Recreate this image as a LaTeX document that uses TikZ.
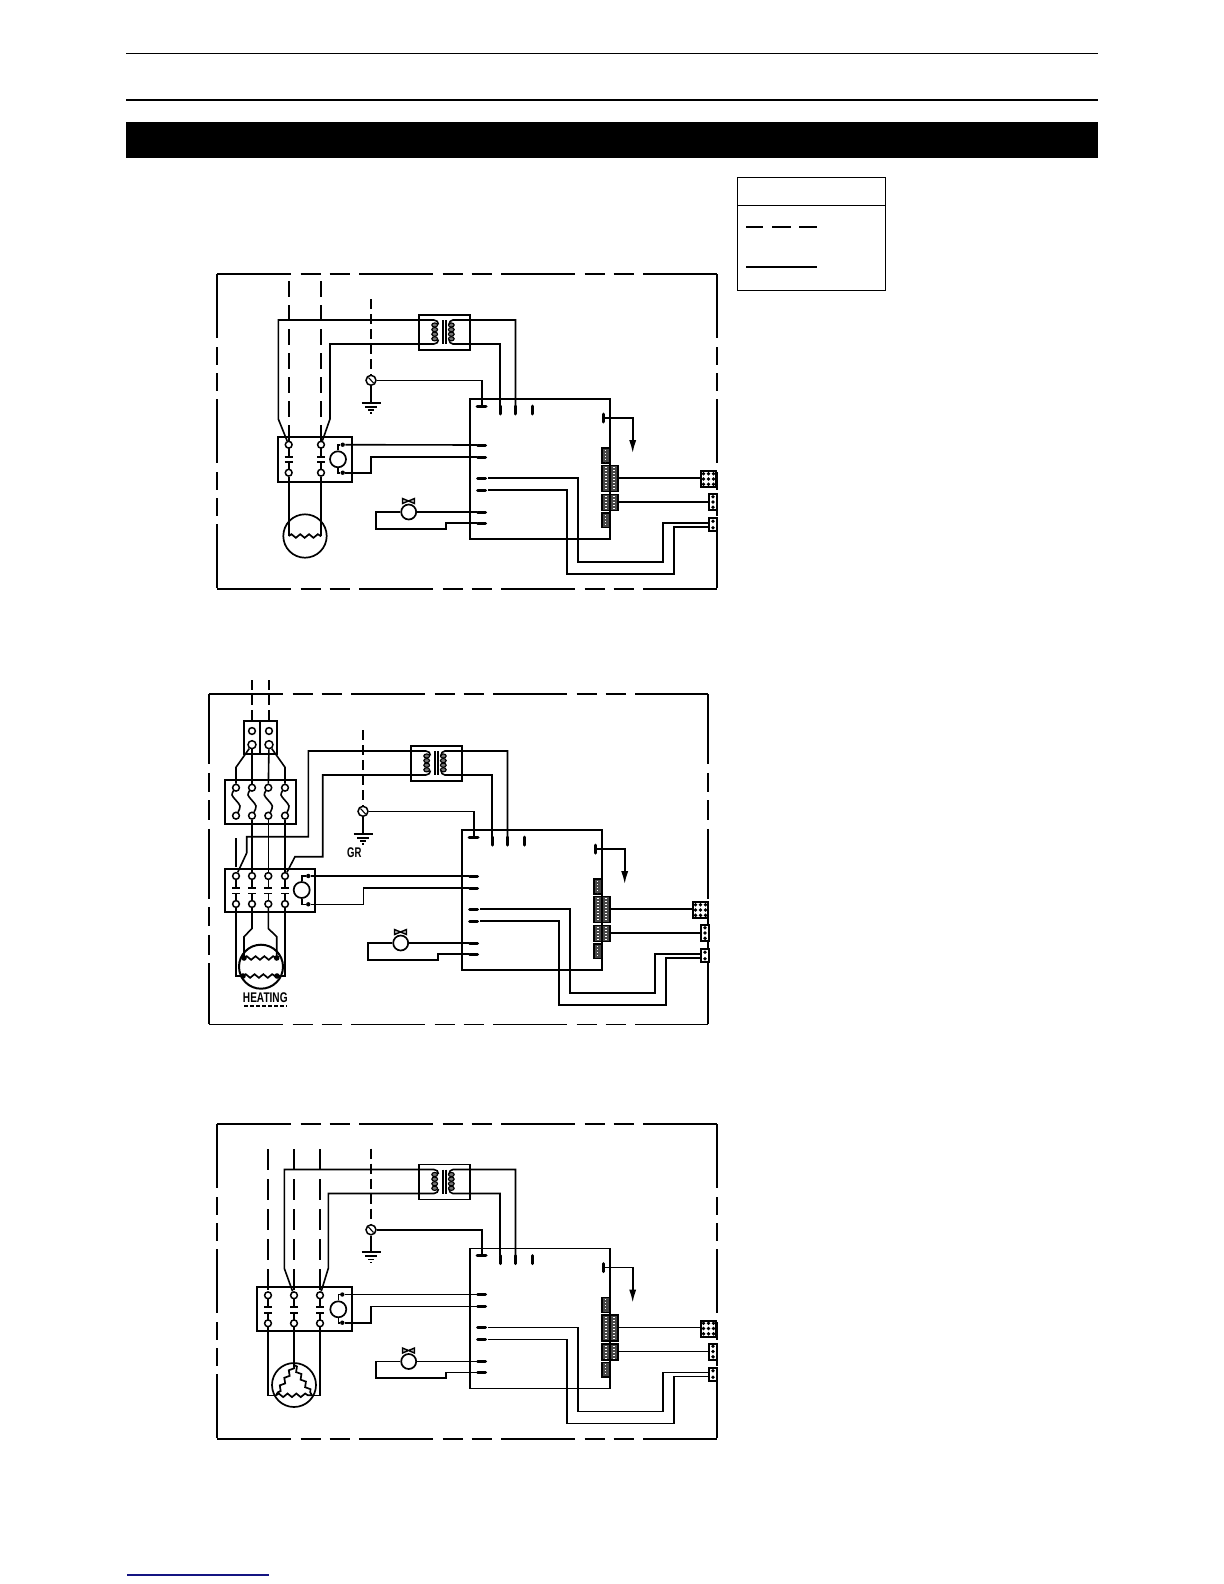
\documentclass[tikz,border=0pt]{standalone}
\usepackage{graphicx}
\usepackage{fontspec}
\setmainfont{Liberation Sans}
\usetikzlibrary{arrows.meta}
\usetikzlibrary{decorations.pathmorphing}
\definecolor{footblue}{RGB}{20,20,130}

\tikzset{
	wire/.style={line width=.8pt,line join=miter},
	thinline/.style={line width=.55pt},
	boxline/.style={line width=.9pt},
	legendline/.style={line width=.7pt},
	framex/.style={line width=.9pt,dash pattern=on 37pt off 4.75pt on 10pt off 4.5pt on 10pt off 4.75pt},
	framey/.style={line width=.9pt,dash pattern=on 32pt off 4.5pt on 9pt off 4pt on 9pt off 4pt},
	frameytall/.style={line width=.9pt,dash pattern=on 35pt off 4.25pt on 9.5pt off 4.25pt on 10pt off 4.25pt},
	feed/.style={line width=.85pt,dash pattern=on 8pt off 4pt},
	feedshort/.style={line width=.8pt,dash pattern=on 5pt off 2.5pt},
	feedlong/.style={line width=.8pt,dash pattern=on 10.5pt off 4.5pt},
	termmark/.style={line width=1.5pt,line cap=round},
	termnode/.style={circle,draw,line width=.75pt,fill=white,inner sep=0pt,minimum size=3.4pt},
	dotnode/.style={circle,fill=black,inner sep=0pt,minimum size=2.2pt},
	coilnode/.style={circle,draw,line width=.85pt,fill=white,inner sep=0pt,minimum size=8pt},
	valvenode/.style={circle,draw,line width=.85pt,fill=white,inner sep=0pt,minimum size=7.5pt},
	motornode/.style={circle,draw,line width=.85pt,inner sep=0pt,minimum size=22pt},
	heater/.style={line width=.85pt,decorate,decoration={snake,segment length=4.4pt,amplitude=.9pt}},
	pinblock/.style={draw,line width=.75pt,fill=black!72},
	pinouter/.style={draw,line width=1pt,fill=white},
	labeltext/.style={font=\bfseries\fontsize{7}{8}\selectfont,inner sep=0pt},
}

% panel edges: left, top, right, bottom, style of the upright sides
\newcommand{\panelframe}[5]{
	\draw[framex] (#1,#2)--(#3,#2);
	\draw[framex] (#1,#4)--(#3,#4);
	\draw[#5] (#1,#2)--(#1,#4);
	\draw[#5] (#3,#2)--(#3,#4);
}

% a contact pair: name, x, y of the upper terminal
\newcommand{\contactpair}[3]{
	\draw[wire] (#2,#3)--(#2,#3+12) (#2,#3+17.5)--(#2,#3+28);
	\draw[boxline] (#2-4,#3+12)--(#2+4,#3+12) (#2-4,#3+17.5)--(#2+4,#3+17.5);
	\node[termnode] (#1t) at (#2,#3) {};
	\node[termnode] (#1b) at (#2,#3+28) {};
}

% contactor coil: centre x, y, dot x, upper dot y, lower dot y
\newcommand{\coilunit}[5]{
	\node[coilnode] (coil) at (#1,#2) {};
	\node[dotnode] (dotA) at (#3,#4) {};
	\node[dotnode] (dotB) at (#3,#5) {};
	\draw[wire] (coil) |- (dotA);
	\draw[wire] (coil) |- (dotB);
}

% header block of pins: x, y, width, height, columns
\newcommand{\pinbox}[5]{
	\draw[pinblock] (#1,#2) rectangle (#1+#3,#2+#4);
	\foreach \k in {1,...,#5} {
		\draw[white,line width=.6pt,dash pattern=on .6pt off .9pt] (#1+\k*#3/#5-#3/#5/2,#2+1.5)--(#1+\k*#3/#5-#3/#5/2,#2+#4-1.5);
	}
}

% plug at the panel edge: x, y, width, height, columns, rows
\newcommand{\plugbox}[6]{
	\draw[pinouter] (#1,#2) rectangle (#1+#3,#2+#4);
	\foreach \k in {1,...,#5} {
		\foreach \j in {1,...,#6} {
			\fill (#1+\k*#3/#5-#3/#5/2,#2+\j*#4/#6-#4/#6/2) circle[radius=.95pt];
		}
	}
}

% board, transformer, valve and earth screw, drawn at the place of the top panel
\newcommand{\ctrlside}[2]{
	\begin{scope}[shift={(#1,#2)}]
		% earth
		\draw[feedshort] (371,299)--(371,376);
		\node[termnode,minimum size=5pt] (screw) at (371,380.3) {};
		\draw[thinline] (368.5,377.5)--(373.5,383);
		\draw[wire] (screw)--(371,402.7);
		\draw[boxline] (361.5,402.7)--(380.5,402.7);
		\draw[boxline] (365,406.7)--(377,406.7);
		\draw[boxline] (368,410)--(374,410);
		\draw[thinline] (370,413)--(372,413);
		\draw[wire] (screw)-|(481.7,406);
		% board
		\draw[boxline] (470,399) rectangle (610,539);
		\draw[termmark] (477,406)--(486,406);
		\draw[termmark] (500,406)--(500,414);
		\draw[termmark] (515,406)--(515,414);
		\draw[termmark] (532,406)--(532,414);
		\draw[termmark] (603,414)--(603,422);
		\foreach \yy in {445,457,478,490,512,523} {
			\draw[termmark] (477.5,\yy)--(485.5,\yy);
		}
		\coordinate (inA) at (477,445);
		\coordinate (inB) at (477,457);
		% transformer
		\draw[boxline] (418.7,315) rectangle (470,350);
		\foreach \k in {0,1,2,3} {
			\draw[thinline,fill=black!55] (434.7,325+\k*4.6) ellipse[x radius=2.9,y radius=2.1];
			\draw[thinline,fill=black!55] (451.3,325+\k*4.6) ellipse[x radius=2.9,y radius=2.1];
		}
		\draw[line width=1.2pt] (442.7,320)--(442.7,344) (446,320)--(446,344);
		\coordinate (xfTop) at (434,320);
		\coordinate (xfBot) at (434,344);
		\draw[wire] (438.5,324.5) to[out=-90+180,in=0] (xfTop);
		\draw[wire] (438.5,339.5) to[out=-90,in=0] (xfBot);
		\draw[wire] (449,324.5) to[out=90,in=180] (453,320)--(515.5,320)--(515.5,406);
		\draw[wire] (449,339.5) to[out=-90,in=180] (453,344)--(500,344)--(500,406);
		% arrow out of the board
		\draw[wire,-{Latex[length=6.5pt,width=3.6pt]}] (603,418)-|(632.7,453);
		% pin headers
		\pinbox{602}{448}{7.5}{15}{1}
		\pinbox{602}{465.5}{16}{26}{2}
		\pinbox{602}{494.5}{16}{16}{2}
		\pinbox{602}{513}{7.5}{14.5}{1}
		\draw[boxline] (610,448)--(610,539);
		% plugs at the edge
		\draw[wire] (618,478)--(701,478);
		\draw[wire] (618,502)--(709,502);
		\plugbox{701}{471}{15}{16}{3}{3}
		\plugbox{709}{494}{8}{16}{1}{3}
		\plugbox{709}{518}{8}{13}{1}{2}
		\draw[wire] (488,478)-|(578,562)-|(663,523)--(709,523);
		\draw[wire] (488,490)-|(567,574)-|(674,527)--(709,527);
		% valve
		\node[valvenode] (valve) at (408.7,512) {};
		\draw[fill=black!30,line width=.7pt] (402.5,498.5)--(414.5,503.5)--(414.5,498.5)--(402.5,503.5)--cycle;
		\draw[wire] (valve)--(477,512);
		\draw[wire] (valve)-|(375.7,528.7)-|(446,523)--(477,523);
	\end{scope}
}

\begin{document}
\begin{tikzpicture}[x=.5pt,y=-.5pt]
	\useasboundingbox (0,0) rectangle (1224,1584);

	% page head
	\draw[line width=.85pt] (126,53.5)--(1098,53.5);
	\draw[line width=.85pt] (126,100)--(1098,100);
	\fill (126,122) rectangle (1098,158);
	\draw[footblue,line width=.6pt] (127,1575)--(269,1575);

	% legend
	\draw[legendline] (737.3,177.3) rectangle (885.3,290.3);
	\draw[legendline] (737.3,205.3)--(885.3,205.3);
	\draw[line width=1pt] (746,226.7)--(763.3,226.7) (772.3,226.7)--(790.7,226.7) (799,226.7)--(816.7,226.7);
	\draw[line width=1pt] (746,266.7)--(816.7,266.7);

	%% top panel
	\panelframe{217}{274}{717}{589}{framey}
	\ctrlside{0}{0}
	\draw[feed] (288.7,281)--(288.7,441);
	\draw[feed] (321,281)--(321,441);
	\draw[boxline] (277.7,437) rectangle (352,481.7);
	\contactpair{ca}{288.7}{444.7}
	\contactpair{cb}{321}{444.7}
	\coilunit{338}{459.3}{342.7}{444.7}{472.7}
	\draw[wire] (dotA)--(inA);
	\draw[wire] (dotB)-|(370.7,457)--(inB);
	\draw[wire] (xfTop)-|(278.3,419)--(cat);
	\draw[wire] (xfBot)-|(330,419)--(cbt);
	\node[motornode,minimum size=21.7pt] (motor) at (305,536) {};
	\draw[wire] (cab)--(288.7,536);
	\draw[wire] (cbb)--(321,536);
	\draw[heater] (288.7,536)--(321,536);

	%% middle panel
	\panelframe{209}{694.3}{708}{1024.4}{frameytall}
	\ctrlside{-8}{431}
	\draw[feedshort] (252,680)--(252,720);
	\draw[feedshort] (269,680)--(269,720);
	\draw[boxline] (243.7,720.7) rectangle (260,754);
	\draw[boxline] (260,720.7) rectangle (276.7,754);
	\node[termnode] (inL) at (252,731) {};
	\node[termnode] (inR) at (269,731) {};
	\node[termnode,minimum size=4pt] (outL) at (252,744.7) {};
	\node[termnode,minimum size=4pt] (outR) at (269,744.7) {};
	% fuses
	\draw[boxline] (225.3,780) rectangle (296,823.7);
	\foreach \name/\xx in {fa/236,fb/252,fc/268.3,fd/285} {
		\draw[wire] plot [smooth] coordinates {(\xx,787.7) (\xx-4,795) (\xx+4,806) (\xx,815.7)};
		\node[termnode] (\name t) at (\xx,787.7) {};
		\node[termnode] (\name b) at (\xx,815.7) {};
	}
	\draw[wire] (outL)--(236,767.3)--(fat);
	\draw[wire] (outL)--(fbt);
	\draw[wire] (outR)--(fct);
	\draw[wire] (outR)--(285,767.3)--(fdt);
	% contactor
	\draw[boxline] (225.3,869) rectangle (315,911.7);
	\contactpair{ka}{236}{876}
	\contactpair{kb}{252}{876}
	\contactpair{kc}{268.3}{876}
	\contactpair{kd}{285}{876}
	\coilunit{301.7}{890}{308.3}{876}{904.3}
	\draw[wire] (dotA)--(inA);
	\draw[wire] (dotB)-|(363.3,888)--(inB);
	\draw[wire] (236,838)--(236,866.5);
	\draw[wire] (fbb)--(kbt);
	\draw[wire] (fcb)--(kct);
	\draw[wire] (fdb)--(kdt);
	\draw[wire] (xfTop)-|(308.3,836.7)-|(246.7,853)--(kat);
	\draw[wire] (xfBot)-|(322.7,856.7)-|(295,856.7)--(kdt);
	% heating element
	\node[motornode,line width=1pt] (heatm) at (261,966.7) {};
	\draw[wire] (kab)--(236,976)--(243,976);
	\draw[wire] (kdb)--(285,976)--(277,976);
	\draw[wire] (kbb)--(252,928.5)--(244,936.7)--(244,958);
	\draw[wire] (kcb)--(268.3,928.5)--(276.7,936.7)--(276.7,958);
	\draw[heater] (244,958)--(276.7,958);
	\draw[heater] (243,976)--(277,976);
	\foreach \xx/\yy in {244/958,276.7/958,243/976,277/976} {
		\fill (\xx,\yy) circle[radius=1.4pt];
	}
	\node[labeltext] (heatlab) at (265.3,998) {\scalebox{.72}[1]{HEATING}};
	\draw[line width=.6pt,dash pattern=on 2pt off 1pt] (244,1006)--(287,1006);
	\node[labeltext] (grlab) at (354.3,852.7) {\scalebox{.68}[1]{GR}};

	%% bottom panel
	\panelframe{217}{1124}{717}{1439}{framey}
	\ctrlside{0}{849.5}
	\draw[feedlong] (268,1149.3)--(268,1292);
	\draw[feedlong] (294,1149.3)--(294,1292);
	\draw[feedlong] (320,1149.3)--(320,1292);
	\draw[boxline] (257.3,1286.7) rectangle (351.7,1331);
	\contactpair{ma}{268}{1295.3}
	\contactpair{mb}{294}{1295.3}
	\contactpair{mc}{320}{1295.3}
	\coilunit{338.3}{1309.3}{342.3}{1294.5}{1322.7}
	\draw[wire] (dotA)--(inA);
	\draw[wire] (dotB)-|(370.7,1306.5)--(inB);
	\draw[wire] (xfTop)-|(284.3,1268.3)--(mbt);
	\draw[wire] (xfBot)-|(328.3,1268.3)--(mct);
	\node[motornode] (motorb) at (294,1385) {};
	\draw[wire] (mab)|-(276,1395.3);
	\draw[wire] (mbb)--(294,1365);
	\draw[wire] (mcb)|-(312,1395.3);
	\draw[heater] (294,1365)--(276,1395.3);
	\draw[heater] (294,1365)--(312,1395.3);
	\draw[heater] (276,1395.3)--(312,1395.3);
\end{tikzpicture}
\end{document}
